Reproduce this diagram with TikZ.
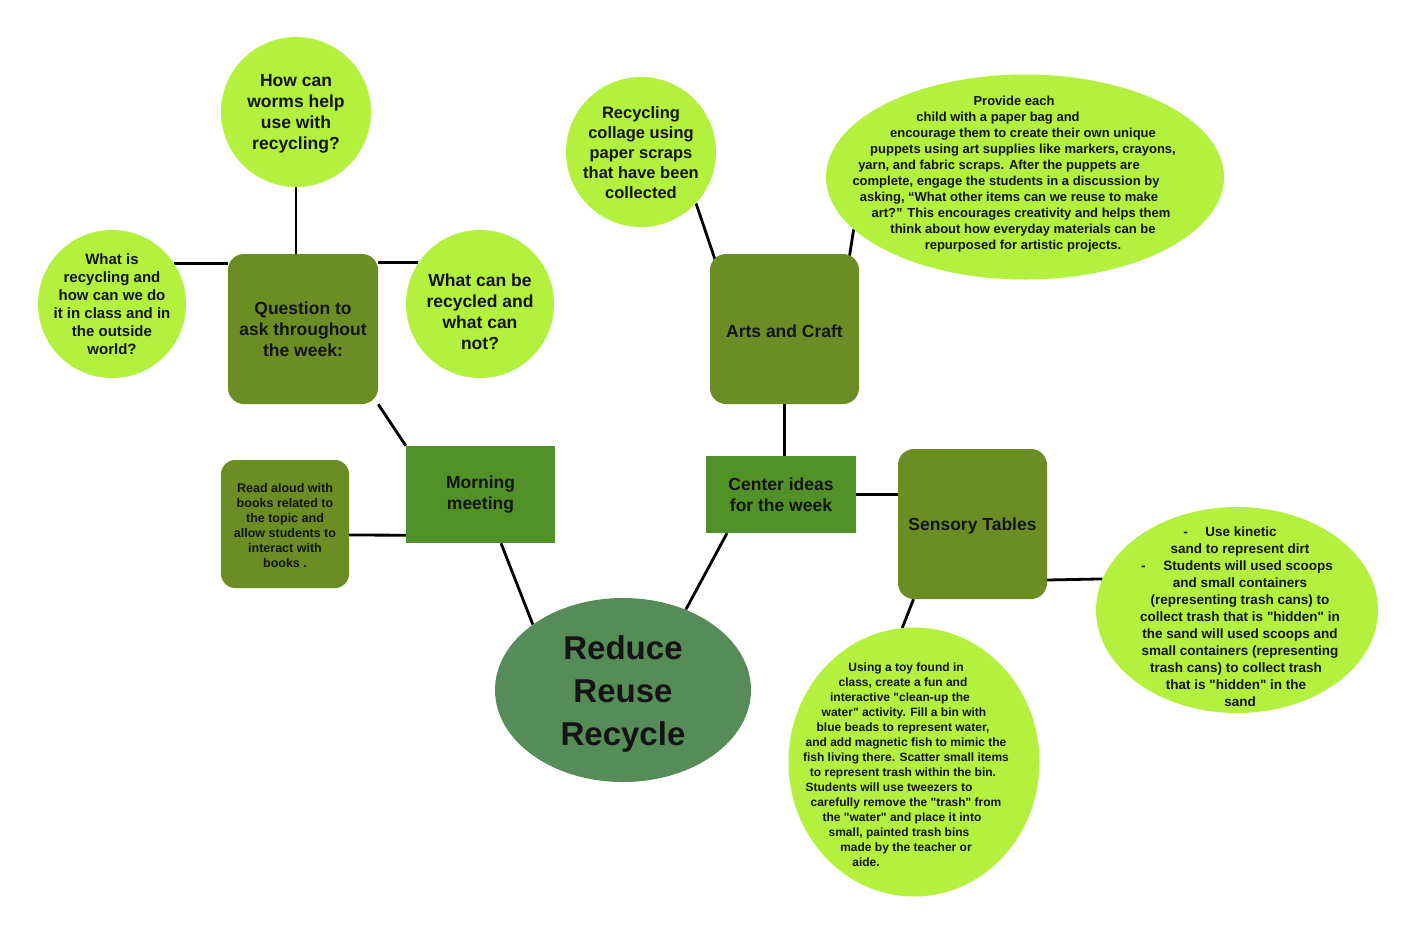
\documentclass[tikz,border=0pt]{standalone}
\usepackage{fontspec}
\setmainfont{Liberation Sans}
\newfontfamily\basefont{Liberation Sans}
\usetikzlibrary{shapes.geometric,backgrounds}
\definecolor{lime}{RGB}{180,240,62}
\definecolor{olivebox}{RGB}{106,142,36}
\definecolor{greenrect}{RGB}{82,144,40}
\definecolor{centralgreen}{RGB}{86,140,88}
\definecolor{ink}{RGB}{20,20,20}
\newcommand{\rsh}[1]{\hspace*{#1pt}\mbox{}}
\begin{document}
\basefont
\begin{tikzpicture}[x=1pt,y=-1pt,
  bubble/.style={circle,fill=lime,draw=none,inner sep=0pt},
  oval/.style={ellipse,fill=lime,draw=none,inner sep=0pt},
  rbox/.style={rectangle,rounded corners=16pt,fill=olivebox,draw=none,inner sep=0pt},
  sbox/.style={rectangle,fill=greenrect,draw=none,inner sep=0pt},
  txt/.style={align=center,text=ink,inner sep=0pt},
  link/.style={draw=black,line width=2.8pt}]
\useasboundingbox (0,0) rectangle (1414,935);

% shapes
\node[bubble,minimum size=150pt] (worm) at (296,112) {};
\node[bubble,minimum size=148pt] (whatis) at (112,304) {};
\node[bubble,minimum size=148pt] (whatcan) at (480,304) {};
\node[rbox,minimum width=150pt,minimum height=150pt] (question) at (303,329) {};
\node[sbox,minimum width=149pt,minimum height=97pt] (morning) at (480.5,494.5) {};
\node[rbox,rounded corners=14pt,minimum width=128pt,minimum height=128pt] (readaloud) at (285,524) {};
\node[ellipse,fill=centralgreen,inner sep=0pt,minimum width=256pt,minimum height=184pt] (central) at (623,690) {};
\node[sbox,minimum width=150pt,minimum height=77pt] (centerideas) at (781,494.5) {};
\node[rbox,minimum width=149pt,minimum height=150pt] (arts) at (784.5,329) {};
\node[bubble,minimum size=150pt] (collage) at (641,152) {};
\node[oval,minimum width=398pt,minimum height=205pt] (provide) at (1025,177) {};
\node[rbox,minimum width=149pt,minimum height=150pt] (sensory) at (972.5,524) {};
\node[oval,minimum width=282pt,minimum height=206pt] (kinetic) at (1237,610) {};
\node[oval,minimum width=251pt,minimum height=269pt] (toy) at (914,762) {};

% texts
\node[txt,font=\fontsize{17.5}{21}\selectfont\bfseries] (worm-t) at (296,113.5) {How can\\worms help\\use with\\recycling?};
\node[txt,font=\fontsize{15}{18}\selectfont\bfseries] (whatis-t) at (112,304.5) {What is\\recycling and\\how can we do\\it in class and in\\the outside\\world?};
\node[txt,font=\fontsize{17.5}{21}\selectfont\bfseries] (whatcan-t) at (480,312) {What can be\\recycled and\\what can\\not?};
\node[txt,font=\fontsize{17.5}{21}\selectfont\bfseries] (question-t) at (303,329) {Question to\\ask throughout\\the week:};
\node[txt,font=\fontsize{12.5}{15}\selectfont\bfseries] (readaloud-t) at (285,526) {Read aloud with\\books related to\\the topic and\\allow students to\\interact with\\books .};
\node[txt,font=\fontsize{17.5}{21}\selectfont\bfseries] (morning-t) at (480.5,495) {Morning\\meeting};
\node[txt,font=\fontsize{33}{43}\selectfont\bfseries] (central-t) at (623,694) {Reduce\\Reuse\\Recycle};
\node[txt,font=\fontsize{17.5}{21}\selectfont\bfseries] (centerideas-t) at (781,495) {Center ideas\\for the week};
\node[txt,font=\fontsize{17.5}{21}\selectfont\bfseries] (arts-t) at (784.5,331) {Arts and Craft};
\node[txt,font=\fontsize{16.5}{20}\selectfont\bfseries] (collage-t) at (641,153) {Recycling\\collage using\\paper scraps\\that have been\\collected};
\node[txt,font=\fontsize{17.5}{21}\selectfont\bfseries] (sensory-t) at (972.5,526) {Sensory Tables};
\node[txt,font=\fontsize{13}{16}\selectfont\bfseries] (provide-t) at (1023,174) {Provide each\rsh{18}\\child with a paper bag and\rsh{50}\\encourage them to create their own unique\\puppets using art supplies like markers, crayons,\\yarn, and fabric scraps. After the puppets are\rsh{48}\\complete, engage the students in a discussion by\rsh{34}\\asking, “What other items can we reuse to make\rsh{28}\\art?” This encourages creativity and helps them\rsh{4}\\think about how everyday materials can be\\repurposed for artistic projects.};
\node[txt,font=\fontsize{13.5}{17}\selectfont\bfseries] (kinetic-t) at (1240,617) {-\hspace{1.3em}Use kinetic\rsh{20}\\sand to represent dirt\\-\hspace{1.3em}Students will used scoops\rsh{6}\\and small containers\\(representing trash cans) to\\collect trash that is "hidden" in\\the sand will used scoops and\\small containers (representing\\trash cans) to collect trash\rsh{8}\\that is "hidden" in the\rsh{8}\\sand};
\node[txt,font=\fontsize{12}{15}\selectfont\bfseries] (toy-t) at (906,765) {Using a toy found in\\class, create a fun and\rsh{6}\\interactive "clean-up the\rsh{12}\\water" activity. Fill a bin with\rsh{4}\\blue beads to represent water,\rsh{6}\\and add magnetic fish to mimic the\\fish living there. Scatter small items\\to represent trash within the bin.\rsh{6}\\Students will use tweezers to\rsh{34}\\carefully remove the "trash" from\\the "water" and place it into\rsh{8}\\small, painted trash bins\rsh{14}\\made by the teacher or\\aide.\rsh{80}};

% connectors
\begin{scope}[on background layer]
\fill[white] (0,0) rectangle (1414,935);
\draw[link] (worm.south) -- (worm.south |- question.north);
\draw[link] (whatis.33) -- (question.west |- whatis.33);
\draw[link] (question.east |- whatcan.146) -- (whatcan.146);
\draw[link] (question.south east) -- (morning.north west);
\draw[link] ([yshift=-11pt]readaloud.east) -- ([yshift=8pt]morning.south west);
\draw[link] ([xshift=20.5pt]morning.south) -- (central.144);
\draw[link] (central.52) -- ([xshift=-54pt]centerideas.south);
\draw[link] (arts.south) -- (arts.south |- centerideas.north);
\draw[link] (collage.-43) -- ([xshift=6pt,yshift=-8pt]arts.north west);
\draw[link] ([xshift=-10pt,yshift=-4pt]arts.north east) -- (provide.197);
\draw[link] (centerideas.east) -- (sensory.west |- centerideas.east);
\draw[link] ([yshift=-56pt]sensory.east) -- (kinetic.167.5);
\draw[link] ([xshift=-59pt]sensory.south) -- (toy.95);
\end{scope}
\end{tikzpicture}
\end{document}
